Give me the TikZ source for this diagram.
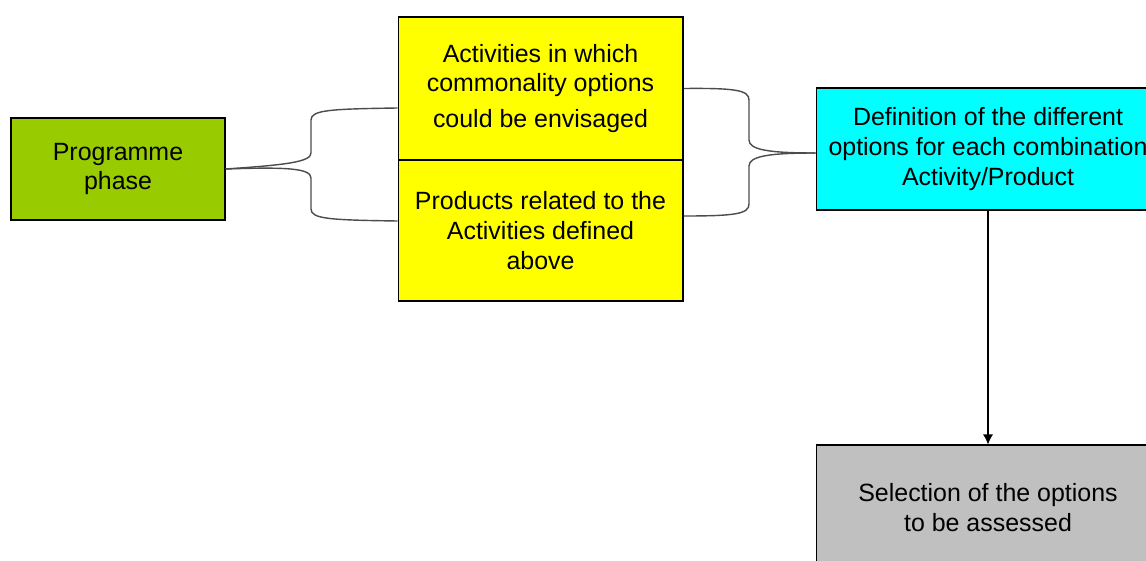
\documentclass[tikz,border=0pt]{standalone}
\usepackage{fontspec}
\setmainfont{Liberation Sans}
\usepackage{xcolor}
\usetikzlibrary{positioning,calc,arrows,arrows.meta}

\definecolor{phasegreen}{RGB}{153,204,0}
\definecolor{actyellow}{RGB}{255,255,0}
\definecolor{optcyan}{RGB}{0,255,255}
\definecolor{selgray}{RGB}{192,192,192}

\tikzset{
	box/.style={draw=black,line width=0.6pt,align=center,inner sep=0pt,font=\fontsize{14.2}{17}\selectfont},
	brace/.style={draw=black!70,line width=0.8pt},
}

\begin{document}
\begin{tikzpicture}[x=0.02cm,y=-0.02cm]
		\path[use as bounding box,fill=white] (0,0) rectangle (1146,561);
		\clip (0,0) rectangle (1146,561);
		\node[box,fill=phasegreen,minimum width=4.28cm,minimum height=2.04cm] (phase) at (118,169) {Programme\\phase};
		\node[box,fill=actyellow,minimum width=5.7cm,minimum height=2.86cm] (act) at (540.5,88.5) {Activities in which\\commonality options\\[0.12cm]could be envisaged};
		\node[box,fill=actyellow,minimum width=5.7cm,minimum height=2.82cm] (prod) at (540.5,230.5) {Products related to the\\Activities defined\\above};
		\node[box,fill=optcyan,minimum width=6.88cm,minimum height=2.44cm] (opt) at (988,149) {Definition of the different\\options for each combination\\Activity/Product};
		\node[box,fill=selgray,minimum width=6.88cm,minimum height=2.5cm] (sel) at (988,507.5) {Selection of the options\\to be assessed};
		% left brace
		\draw[brace] ([yshift=-0.39cm]act.west) .. controls (330,109) and (311,110) .. (311,120) -- (311,153) .. controls (311,162) and (285,165) .. (phase.east);
		\draw[brace] ([yshift=0.19cm]prod.west) .. controls (330,220) and (311,219) .. (311,209) -- (311,178) .. controls (311,168) and (285,167) .. (phase.east);
		% right brace
		\draw[brace] (act.east) .. controls (735,88) and (749,90) .. (749,100) -- (749,140) .. controls (749,150) and (770,153) .. ([yshift=-0.08cm]opt.west);
		\draw[brace] ([yshift=0.29cm]prod.east) .. controls (735,216) and (749,214) .. (749,204) -- (749,166) .. controls (749,156) and (770,153) .. ([yshift=-0.08cm]opt.west);
		\draw[-{Latex[length=2mm,width=2mm]},line width=0.6pt] (opt) -- (sel);
	\end{tikzpicture}
\end{document}
